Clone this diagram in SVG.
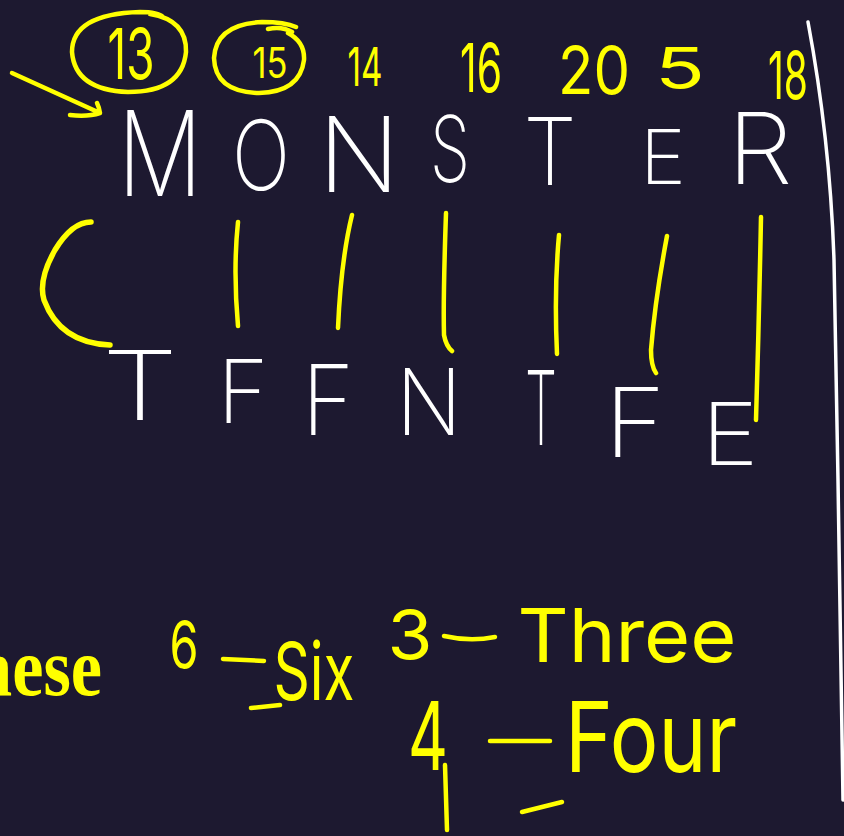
<svg xmlns="http://www.w3.org/2000/svg" width="844" height="836" viewBox="0 0 844 836">
<style>
.w{fill:#ffffff;font-family:Inter,"DejaVu Sans",sans-serif;font-weight:250;text-anchor:middle}
.y{fill:#ffff00;font-family:Inter,"DejaVu Sans",sans-serif;font-weight:400;text-anchor:middle}
.ys{fill:none;stroke:#ffff00;stroke-width:4.5;stroke-linecap:round;stroke-linejoin:round}
.ws{fill:none;stroke:#ffffff;stroke-width:3.5;stroke-linecap:round}
.big{fill:#ffff00;font-family:"Liberation Serif",serif;font-weight:bold}
</style>
<rect width="844" height="836" fill="#1d1930"/>
<!-- right white margin line -->
<path class="ws" d="M808,22 Q830,140 834,260 L838,480 L843,800"/>
<!-- arrow -->
<g id="arrow">
<path class="ys" d="M12,73 L100,113 M70,115 Q88,117 100,113 Q99,107 97,103"/>
</g>
<!-- top numbers -->
<g id="numbers">
<path class="ys" d="M150,14 Q187,20 186,52 Q182,92 128,92 Q75,90 72,52 Q72,14 140,12 Q158,12 163,17"/>
<text class="y" x="131" y="79" font-size="70" textLength="47" lengthAdjust="spacingAndGlyphs">13</text>
<path class="ys" d="M288,33 Q305,42 304,60 Q300,92 259,93 Q215,92 214,58 Q216,24 262,22 Q285,22 296,27 M268,29 Q282,26 292,32"/>
<text class="y" x="270" y="78" font-size="42" textLength="35" lengthAdjust="spacingAndGlyphs">15</text>
<text class="y" x="365" y="86" font-size="54" textLength="35" lengthAdjust="spacingAndGlyphs">14</text>
<text class="y" x="481" y="92" font-size="68" textLength="42" lengthAdjust="spacingAndGlyphs">16</text>
<text class="y" x="594" y="94" font-size="66" textLength="72" lengthAdjust="spacingAndGlyphs">20</text>
<text class="y" x="680" y="89" font-size="57" textLength="50" lengthAdjust="spacingAndGlyphs">5</text>
<text class="y" x="788" y="99" font-size="66" textLength="40" lengthAdjust="spacingAndGlyphs">18</text>
</g>
<!-- MONSTER -->
<g id="monster">
<text class="w" x="160" y="196" font-size="118" textLength="85" lengthAdjust="spacingAndGlyphs">M</text>
<text class="w" x="261" y="190" font-size="97" textLength="58" lengthAdjust="spacingAndGlyphs">O</text>
<text class="w" x="359" y="192" font-size="104" textLength="82" lengthAdjust="spacingAndGlyphs">N</text>
<text class="w" x="450" y="182" font-size="92" textLength="40" lengthAdjust="spacingAndGlyphs">S</text>
<text class="w" x="550" y="185" font-size="94" textLength="53" lengthAdjust="spacingAndGlyphs">T</text>
<text class="w" x="663" y="184" font-size="75" textLength="46" lengthAdjust="spacingAndGlyphs">E</text>
<text class="w" x="760" y="184" font-size="99" textLength="65" lengthAdjust="spacingAndGlyphs">R</text>
</g>
<!-- yellow links -->
<g id="links">
<path class="ys" style="stroke-width:5.5" d="M91,222 Q72,222 55,250 Q38,280 44,300 Q60,343 110,345"/>
<path class="ys" d="M238,222 Q233,270 238,326"/>
<path class="ys" d="M352,215 Q341,260 338,328"/>
<path class="ys" d="M446,213 Q443,300 444,335 Q446,346 452,351"/>
<path class="ys" d="M559,235 Q554,290 557,354"/>
<path class="ys" d="M667,236 Q655,300 651,350 Q651,366 656,373"/>
<path class="ys" d="M761,217 Q759,320 756,420"/>
</g>
<!-- TFFNTFE -->
<g id="tffntfe">
<text class="w" x="140" y="420" font-size="96" textLength="76" lengthAdjust="spacingAndGlyphs">T</text>
<text class="w" x="243" y="423" font-size="88" textLength="51" lengthAdjust="spacingAndGlyphs">F</text>
<text class="w" x="328" y="435" font-size="97" textLength="52" lengthAdjust="spacingAndGlyphs">F</text>
<text class="w" x="429" y="435" font-size="92" textLength="66" lengthAdjust="spacingAndGlyphs">N</text>
<text class="w" x="541" y="445" font-size="103" textLength="32" lengthAdjust="spacingAndGlyphs">T</text>
<text class="w" x="635" y="457" font-size="96" textLength="61" lengthAdjust="spacingAndGlyphs">F</text>
<text class="w" x="730" y="465" font-size="86" textLength="57" lengthAdjust="spacingAndGlyphs">E</text>
</g>
<!-- bottom -->
<text class="big" x="-27" y="695" font-size="83" textLength="129" lengthAdjust="spacingAndGlyphs">hese</text>
<g id="six">
<text class="y" x="184" y="668" font-size="64" textLength="29" lengthAdjust="spacingAndGlyphs">6</text>
<path class="ys" d="M223,659 L264,661"/>
<text class="y" x="314" y="700" font-size="80" textLength="81" lengthAdjust="spacingAndGlyphs">Six</text>
<path class="ys" d="M251,708 L280,705"/>
</g>
<g id="three">
<text class="y" x="410" y="659" font-size="68" textLength="45" lengthAdjust="spacingAndGlyphs">3</text>
<path class="ys" d="M444,636 Q470,642 495,637"/>
<text class="y" x="627" y="662" font-size="74" textLength="219" lengthAdjust="spacingAndGlyphs">Three</text>
</g>
<g id="four">
<text class="y" x="428" y="770" font-size="95" textLength="40" lengthAdjust="spacingAndGlyphs">4</text>
<path class="ys" d="M445,765 L447,830"/>
<path class="ys" d="M490,741 L550,741"/>
<text class="y" x="651" y="772" font-size="98" textLength="172" lengthAdjust="spacingAndGlyphs">Four</text>
<path class="ys" d="M522,812 L562,802"/>
</g>
</svg>
